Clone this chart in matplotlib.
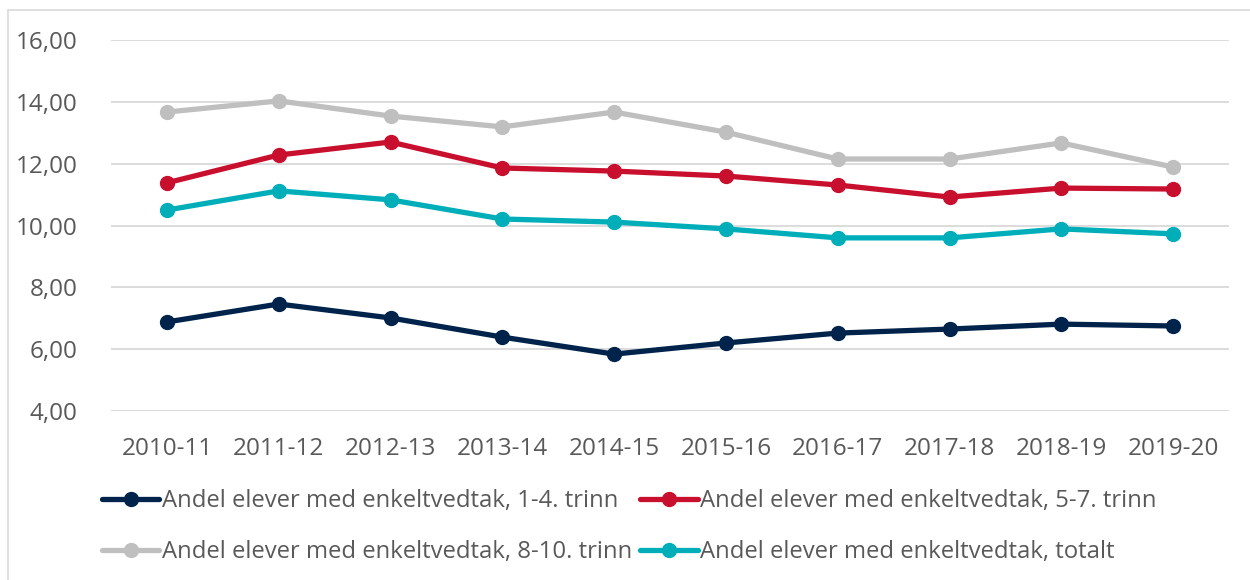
import matplotlib.pyplot as plt
from matplotlib.patches import Rectangle
from matplotlib.ticker import FuncFormatter

plt.rcParams['font.family'] = ['Open Sans', 'DejaVu Sans']

# Data
years = ['2010-11', '2011-12', '2012-13', '2013-14', '2014-15',
         '2015-16', '2016-17', '2017-18', '2018-19', '2019-20']
trinn_1_4 = [6.88, 7.46, 7.01, 6.39, 5.84, 6.20, 6.52, 6.65, 6.81, 6.75]
trinn_5_7 = [11.38, 12.28, 12.70, 11.86, 11.76, 11.60, 11.31, 10.92, 11.21, 11.18]
trinn_8_10 = [13.67, 14.03, 13.54, 13.19, 13.67, 13.02, 12.15, 12.15, 12.67, 11.89]
totalt = [10.50, 11.12, 10.83, 10.21, 10.11, 9.89, 9.60, 9.60, 9.89, 9.73]

labels = ['Andel elever med enkeltvedtak, 1-4. trinn',
          'Andel elever med enkeltvedtak, 5-7. trinn',
          'Andel elever med enkeltvedtak, 8-10. trinn',
          'Andel elever med enkeltvedtak, totalt']
colors = ['#00234B', '#C8102E', '#BFBFBF', '#00AEBA']
series = [trinn_1_4, trinn_5_7, trinn_8_10, totalt]

text_col = '#595959'

fig = plt.figure(figsize=(12.5, 5.8), dpi=100)
fig.patches.append(Rectangle((8 / 1250, -0.1), 1.2, 1 - 10 / 580 + 0.1,
                             transform=fig.transFigure, fill=False,
                             edgecolor='#D9D9D9', linewidth=1.2))

ax = fig.add_axes([111 / 1250, 1 - 411 / 580, (1229 - 111) / 1250, (411 - 40) / 580])

x = range(len(years))
lines = []
for vals, col, lab in zip(series, colors, labels):
    ln, = ax.plot(x, vals, color=col, linewidth=3.8, marker='o', markersize=10,
                  label=lab, solid_capstyle='round')
    lines.append(ln)

ax.set_xlim(-0.5, len(years) - 0.5)
ax.set_ylim(4, 16)
ax.set_yticks(range(4, 17, 2))
ax.yaxis.set_major_formatter(FuncFormatter(lambda v, p: f'{v:.2f}'.replace('.', ',')))
ax.set_xticks(list(x))
ax.set_xticklabels(years)
ax.grid(axis='y', color='#D9D9D9', linewidth=1.3)
ax.set_axisbelow(True)
for s in ax.spines.values():
    s.set_visible(False)
ax.tick_params(length=0, labelsize=17.5, colors=text_col)
ax.tick_params(axis='x', pad=19)
ax.tick_params(axis='y', pad=24)

# legend: two rows, column-major order so rows read navy/red, gray/teal
order = [0, 2, 1, 3]
leg = fig.legend([lines[i] for i in order], [labels[i] for i in order],
                 ncol=2, loc='upper left', bbox_to_anchor=(102 / 1250, 1 - 489 / 580),
                 frameon=False, fontsize=17.2, handlelength=2.4, handletextpad=0.1,
                 columnspacing=0.35, labelspacing=1.15, borderaxespad=0,
                 borderpad=0)
for t in leg.get_texts():
    t.set_color(text_col)

fig.savefig('out.png', dpi=100)
